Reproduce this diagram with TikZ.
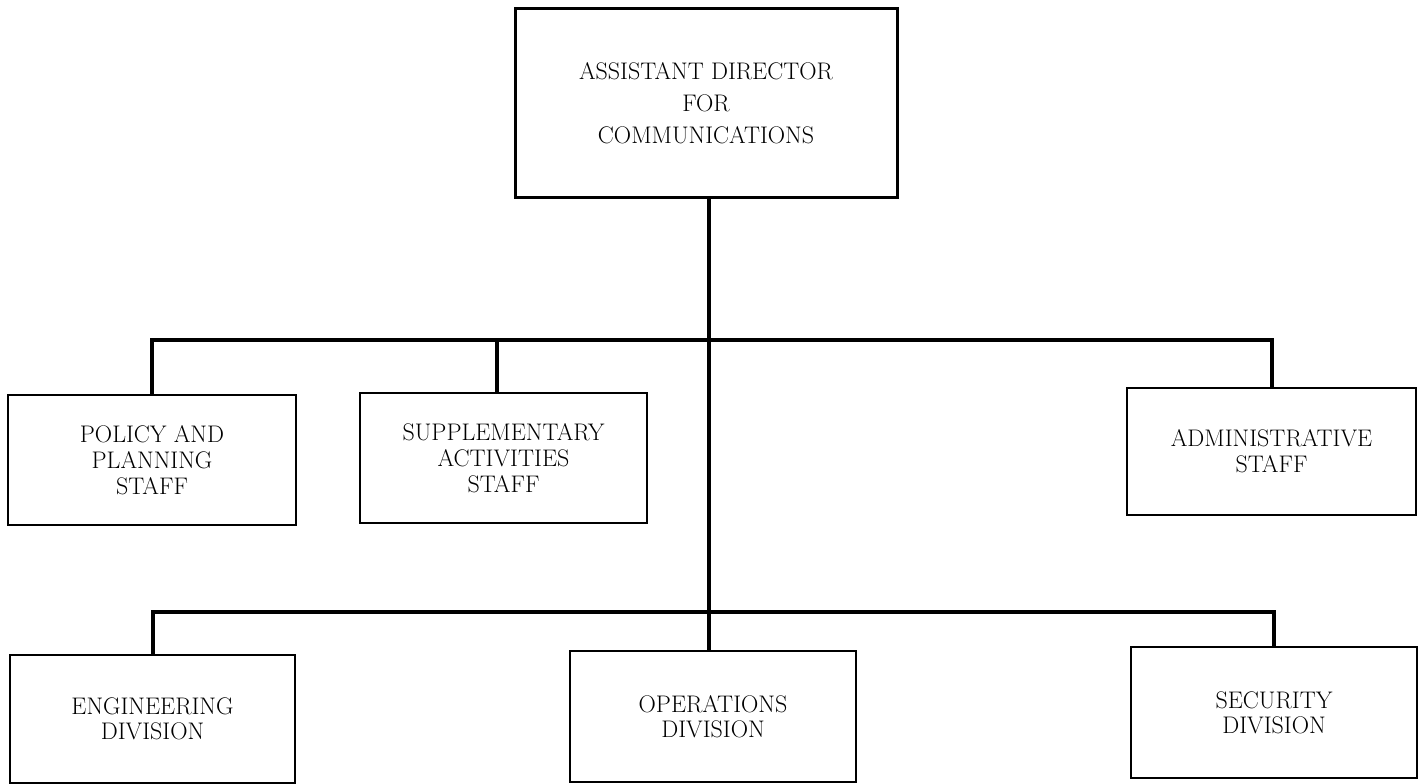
\documentclass[tikz,border=0pt]{standalone}
\usepackage{tikz}
\begin{document}
\begin{tikzpicture}[x=1pt,y=-1pt,
  box/.style={draw=black,line width=2.6pt,rectangle,inner sep=0pt,
    align=center,font=\fontsize{24}{26}\selectfont,
    minimum width=287pt,minimum height=130pt},
  headbox/.style={box,line width=3pt,font=\fontsize{24}{32}\selectfont,
    minimum width=382pt,minimum height=188pt},
  divbox/.style={box,font=\fontsize{24}{25}\selectfont,minimum height=131pt},
  link/.style={draw=black,line width=4pt,line join=miter}]
\useasboundingbox (0,0) rectangle (1424,784);

% head of the office
\node[headbox] (head) at (706,103) {ASSISTANT DIRECTOR\\FOR\\COMMUNICATIONS};

% staff offices
\node[box,minimum width=288pt] (pol) at (152,460) {POLICY AND\\PLANNING\\STAFF};
\node[box] (sup) at (503.5,458) {SUPPLEMENTARY\\ACTIVITIES\\STAFF};
\node[box,minimum width=289pt,minimum height=127pt] (adm) at (1271.5,451.5) {ADMINISTRATIVE\\STAFF};

% divisions
\node[divbox,minimum width=285pt,minimum height=128pt] (eng) at (152.5,719) {ENGINEERING\\DIVISION};
\node[divbox,minimum width=286pt] (ops) at (713,716.5) {OPERATIONS\\DIVISION};
\node[divbox,minimum width=286pt] (sec) at (1274,712.5) {SECURITY\\DIVISION};

% junctions on the main line
\coordinate (j1) at (709,340);
\coordinate (j2) at (709,612);
\coordinate (supdrop) at ([xshift=-6.5pt]sup.north);

% main line
\draw[link] (head.south -| j1) -- (ops.north -| j1);
% staff branch
\draw[link] (pol.north) |- (j1) -| (adm.north);
\draw[link] (supdrop) -- (supdrop |- j1);
% division branch
\draw[link] (eng.north) |- (j2) -| (sec.north);
\end{tikzpicture}
\end{document}
